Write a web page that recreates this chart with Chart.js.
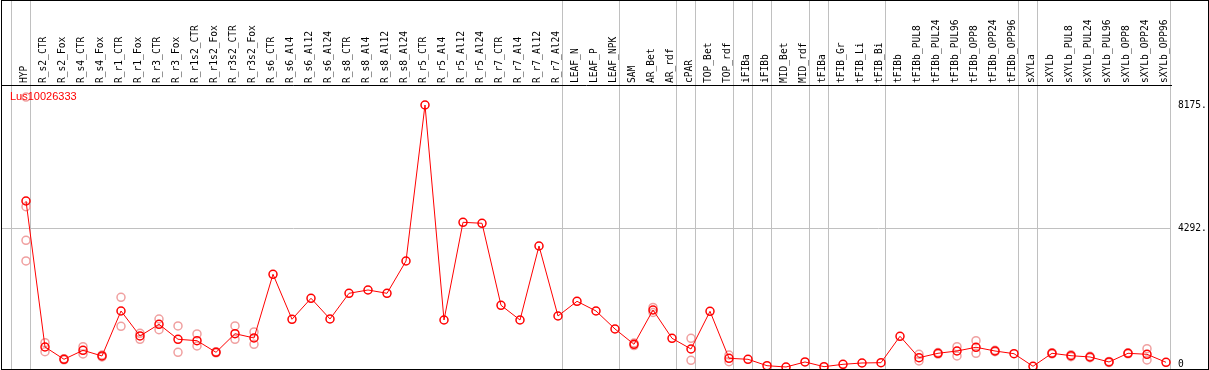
<!DOCTYPE html>
<html><head><meta charset="utf-8">
<script src="https://cdn.jsdelivr.net/npm/chart.js@4"></script>
<style>html,body{margin:0;padding:0;background:#fff;overflow:hidden}canvas{display:block}</style>
</head><body>
<canvas id="c" width="1209" height="370"></canvas>
<script>
const geneId = 'Lus10026333';
const categories = ['HYP','R_s2_CTR','R_s2_Fox','R_s4_CTR','R_s4_Fox','R_r1_CTR','R_r1_Fox','R_r3_CTR','R_r3_Fox','R_r1s2_CTR','R_r1s2_Fox','R_r3s2_CTR','R_r3s2_Fox','R_s6_CTR','R_s6_Al4','R_s6_Al12','R_s6_Al24','R_s8_CTR','R_s8_Al4','R_s8_Al12','R_s8_Al24','R_r5_CTR','R_r5_Al4','R_r5_Al12','R_r5_Al24','R_r7_CTR','R_r7_Al4','R_r7_Al12','R_r7_Al24','LEAF_N','LEAF_P','LEAF_NPK','SAM','AR_Bet','AR_rdf','cPAR','TOP_Bet','TOP_rdf','iFIBa','iFIBb','MID_Bet','MID_rdf','tFIBa','tFIB_Gr','tFIB_Li','tFIB_Bi','tFIBb','tFIBb_PUL8','tFIBb_PUL24','tFIBb_PUL96','tFIBb_OPP8','tFIBb_OPP24','tFIBb_OPP96','sXYLa','sXYLb','sXYLb_PUL8','sXYLb_PUL24','sXYLb_PUL96','sXYLb_OPP8','sXYLb_OPP24','sXYLb_OPP96'];
const meanValues = [5152,554,167,450,271,1688,901,1269,797,753,387,973,838,2844,1427,2088,1436,2245,2349,2245,3262,8175,1404,4481,4450,1867,1404,3735,1530,1993,1688,1121,639,1719,828,491,1678,198,167,-35,-76,82,-66,9,50,60,891,217,356,428,545,428,343,-54,356,280,239,82,356,324,72];
const replicateValues = [[8425,4973,3915,3263],[690,406],[185,150],[564,334],[300,242],[2119,1206],[986,797],[1436,1099],[1216,387],[964,586],[405,370],[1216,797],[1027,639],[],[],[],[],[],[],[],[],[],[],[],[],[],[],[],[],[],[],[],[680,600],[1800,1640],[],[828,135],[],[302,91],[],[],[],[],[],[],[],[],[],[324,113],[380,330],[564,271],[753,356],[450,405],[],[],[375,335],[310,250],[260,218],[100,64],[370,340],[501,145],[]];
const yTickValues = [0, 4292, 8175];
const gridTickValue = 4292;
const separatorAfter = [-1,0,28,31,34,35,37,38,39,41,42,45,52,53,60];

const SEP_SHIFT = 0.23;
const X_MIN = -25/19, X_MAX = X_MIN + 1170/19;

function noPad(s) { s.paddingTop = 0; s.paddingBottom = 0; s.paddingLeft = 0; s.paddingRight = 0; }

const framePlugin = {
  id: 'frame',
  afterDraw(chart) {
    const {ctx, width: w, height: h} = chart;
    ctx.save();
    ctx.strokeStyle = '#000'; ctx.lineWidth = 1;
    ctx.beginPath();
    ctx.moveTo(1.5, 0); ctx.lineTo(1.5, h);
    ctx.moveTo(1, 0.5); ctx.lineTo(w, 0.5);
    ctx.moveTo(w - 0.5, 0); ctx.lineTo(w - 0.5, h);
    ctx.moveTo(1, h - 0.5); ctx.lineTo(w, h - 0.5);
    ctx.stroke();
    ctx.restore();
  }
};
const labelPlugin = {
  id: 'geneLabel',
  afterDatasetsDraw(chart) {
    const {ctx, chartArea} = chart;
    ctx.save();
    ctx.font = '11px "Liberation Sans", Arial, sans-serif';
    ctx.fillStyle = '#ff0000';
    ctx.textBaseline = 'middle';
    ctx.textAlign = 'left';
    ctx.fillText(chart.data.datasets[0].label, chartArea.left + 9, chartArea.top + 12);
    ctx.restore();
  }
};

const repPoints = [];
replicateValues.forEach((arr, i) => arr.forEach(v => repPoints.push({x: i, y: v})));

new Chart(document.getElementById('c').getContext('2d'), {
  type: 'line',
  data: {
    datasets: [
      {label: geneId, data: meanValues.map((v, i) => ({x: i, y: v})), borderColor: '#ff0000', borderWidth: 1,
       pointRadius: 4, pointHoverRadius: 4, pointBorderWidth: 1.5, pointBorderColor: '#ff0000',
       pointBackgroundColor: 'rgba(0,0,0,0)', tension: 0, order: 0},
      {label: 'replicates', type: 'scatter', showLine: false, data: repPoints, pointRadius: 4, pointHoverRadius: 4,
       pointBorderWidth: 1.5, pointBorderColor: '#f0a0a0', pointBackgroundColor: 'rgba(0,0,0,0)', order: 1}
    ]
  },
  options: {
    responsive: false, animation: false, devicePixelRatio: 1,
    layout: {autoPadding: false, padding: {left: 1, top: 0, right: 0, bottom: 1}},
    plugins: {legend: {display: false}, tooltip: {enabled: false}, title: {display: false}},
    scales: {
      x: {
        type: 'linear', axis: 'x', position: 'top', weight: 1, min: X_MIN, max: X_MAX,
        afterBuildTicks: s => { s.ticks = categories.map((_, i) => ({value: i})); },
        afterFit: s => { s.height = 85; noPad(s); },
        ticks: {autoSkip: false, minRotation: 90, maxRotation: 90, padding: 2, labelOffset: 10, color: '#000',
                font: {family: 'DejaVu Sans Mono', size: 9.6}, callback: v => categories[v]},
        grid: {display: false, drawTicks: false, tickLength: 0},
        border: {display: true, color: '#000', width: 1}
      },
      sep: {
        type: 'linear', axis: 'x', position: 'top', weight: 0, min: X_MIN, max: X_MAX,
        afterBuildTicks: s => { s.ticks = separatorAfter.map(i => ({value: i + SEP_SHIFT})); },
        afterFit: s => { s.height = 0; noPad(s); },
        ticks: {display: false},
        grid: {color: '#c0c0c0', lineWidth: 1, drawTicks: true, tickLength: 85},
        border: {display: false}
      },
      y: {
        type: 'linear', position: 'right', min: -139, max: 8805,
        afterBuildTicks: s => { s.ticks = yTickValues.map(v => ({value: v})); },
        afterFit: s => { s.width = 38; noPad(s); },
        ticks: {padding: 7, color: '#000', font: {family: 'DejaVu Sans Mono', size: 9.6},
                callback: v => v === 0 ? '0' : v + '.'},
        grid: {drawTicks: false, color: c => (c.tick && c.tick.value === gridTickValue) ? '#c0c0c0' : 'rgba(0,0,0,0)'},
        border: {display: false}
      }
    }
  },
  plugins: [framePlugin, labelPlugin]
});
</script>
</body></html>
